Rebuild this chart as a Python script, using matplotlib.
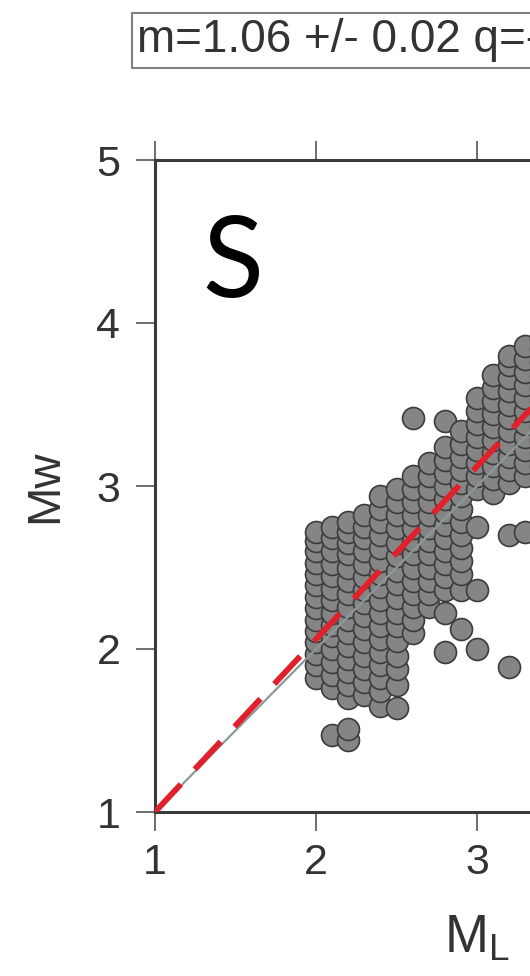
import matplotlib
matplotlib.use("Agg")
import matplotlib.pyplot as plt
import numpy as np

plt.rcParams['font.family'] = ['Liberation Sans', 'DejaVu Sans']

# Data: local magnitude ML (columns) and moment magnitude Mw values
ml_cols = [2.0, 2.1, 2.2, 2.3, 2.4, 2.5, 2.6, 2.7, 2.8, 2.9, 3.0, 3.1, 3.2, 3.3, 3.4]
mw_vals = [
    [1.82, 1.90, 1.97, 2.04, 2.11, 2.18, 2.25, 2.32, 2.39, 2.46, 2.53, 2.60, 2.66, 2.72],
    [1.47, 1.76, 1.84, 1.92, 2.00, 2.08, 2.15, 2.22, 2.30, 2.37, 2.45, 2.52, 2.60, 2.68, 2.75],
    [1.44, 1.51, 1.70, 1.78, 1.86, 1.94, 2.02, 2.10, 2.18, 2.26, 2.34, 2.42, 2.50, 2.58, 2.65, 2.72, 2.78],
    [1.72, 1.80, 1.88, 1.96, 2.04, 2.12, 2.20, 2.28, 2.36, 2.44, 2.52, 2.60, 2.68, 2.75, 2.82],
    [1.65, 1.74, 1.82, 1.90, 1.98, 2.06, 2.14, 2.22, 2.30, 2.38, 2.46, 2.54, 2.62, 2.70, 2.78, 2.86, 2.94],
    [1.64, 1.78, 1.88, 1.96, 2.05, 2.14, 2.22, 2.31, 2.40, 2.48, 2.57, 2.65, 2.74, 2.82, 2.90, 2.98],
    [2.10, 2.18, 2.26, 2.34, 2.42, 2.50, 2.58, 2.66, 2.74, 2.82, 2.90, 2.98, 3.06, 3.42],
    [2.26, 2.34, 2.42, 2.50, 2.58, 2.66, 2.74, 2.82, 2.90, 2.98, 3.06, 3.14],
    [1.98, 2.22, 2.36, 2.44, 2.52, 2.60, 2.68, 2.76, 2.84, 2.92, 3.00, 3.08, 3.16, 3.24, 3.40],
    [2.12, 2.36, 2.46, 2.54, 2.62, 2.70, 2.78, 2.86, 2.94, 3.02, 3.10, 3.18, 3.26, 3.34],
    [2.00, 2.36, 2.75, 2.98, 3.06, 3.14, 3.22, 3.30, 3.38, 3.46, 3.54],
    [2.96, 3.04, 3.12, 3.20, 3.28, 3.36, 3.44, 3.52, 3.60, 3.68],
    [1.89, 2.70, 3.02, 3.10, 3.18, 3.26, 3.34, 3.42, 3.50, 3.58, 3.66, 3.74, 3.80],
    [2.72, 3.06, 3.14, 3.22, 3.30, 3.38, 3.46, 3.54, 3.62, 3.70, 3.78, 3.86],
    [3.04, 3.12, 3.20, 3.28, 3.36, 3.44, 3.52, 3.60, 3.68, 3.76, 3.84, 3.90],
]

slope = 1.06
intercept = -0.06
line_x = [1.0, 5.0]
ticks = [1, 2, 3, 4, 5]
title_text = "m=1.06 +/- 0.02 q=-0.06 +/- 0.05"
panel_label = "S"

x_pts = np.concatenate([[ml] * len(v) for ml, v in zip(ml_cols, mw_vals)])
y_pts = np.concatenate([v for v in mw_vals])

W, H = 530, 976
fig = plt.figure(figsize=(W / 100, H / 100), dpi=100)
fig.patch.set_facecolor('white')

ax_left, ax_right = 155, 799
ax_top, ax_bottom = 160, 812
ax = fig.add_axes([ax_left / W, 1 - ax_bottom / H,
                   (ax_right - ax_left) / W, (ax_bottom - ax_top) / H])
ax.set_xlim(1, 5)
ax.set_ylim(1, 5)

ax.scatter(x_pts, y_pts, s=250, facecolor='#858585', edgecolor='#3c3c3c',
           linewidths=1.2, zorder=2, clip_on=True)

ax.plot(line_x, line_x, color='#8a9a98', lw=1.6, zorder=3, solid_capstyle='butt')
fit_y = [slope * v + intercept for v in line_x]
ax.plot(line_x, fit_y, color='#e0202a', lw=4.2, dashes=(6.5, 3.5), zorder=4,
        dash_capstyle='butt')

ax.set_xticks(ticks)
ax.set_yticks(ticks)
ax.tick_params(axis='both', direction='out', length=14, width=1.2,
               color='#555555', labelsize=31, labelcolor='#333333',
               top=True, right=True)
ax.tick_params(axis='x', pad=8)
ax.tick_params(axis='y', pad=11)
for sp in ax.spines.values():
    sp.set_linewidth(2.2)
    sp.set_color('#3a3a3a')

ax.set_ylabel('Mw', fontsize=34, color='#333333')
ax.yaxis.label.set_va('center')
ax.yaxis.set_label_coords((45 - ax_left) / (ax_right - ax_left), 0.5)

ax.set_xlabel(r'M$_\mathregular{L}$', fontsize=38, color='#333333')
ax.xaxis.label.set_va('baseline')
ax.xaxis.set_label_coords(0.5, -(952 - ax_bottom) / (ax_bottom - ax_top))

ax.text((202 - ax_left) / (ax_right - ax_left), (ax_bottom - 297) / (ax_bottom - ax_top),
        panel_label, transform=ax.transAxes, fontsize=81, family=['Lato', 'DejaVu Sans'],
        ha='left', va='baseline', color='black')

fig.text(137 / W, 1 - 52 / H, title_text, fontsize=33, color='#333333',
         ha='left', va='baseline',
         bbox=dict(boxstyle='square,pad=0.12', facecolor='white',
                   edgecolor='#808080', linewidth=1.5))

fig.savefig('out.png', dpi=100)
